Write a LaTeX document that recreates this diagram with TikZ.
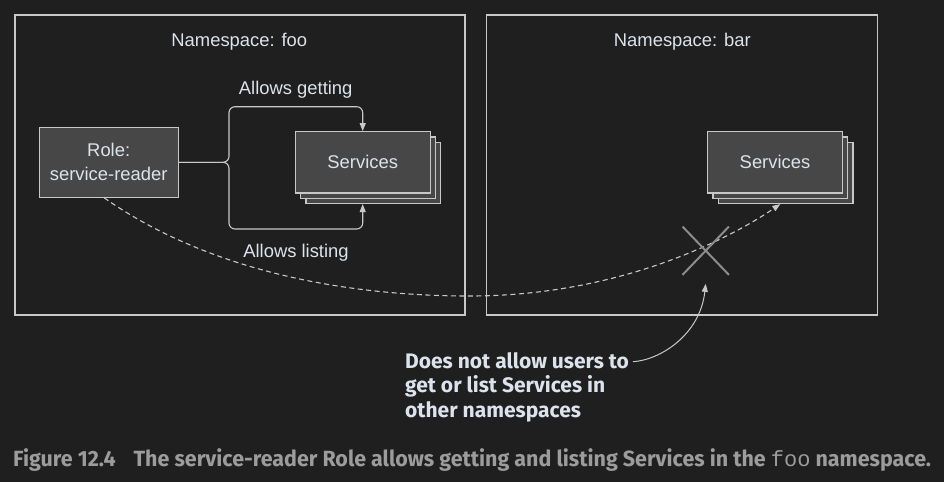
\documentclass[tikz,border=0pt]{standalone}
\usepackage{fontspec}
\usepackage{xcolor}
\usepackage{tikz}
\usetikzlibrary{arrows.meta, shadows, shapes.misc}
\setmainfont{Liberation Sans}
\setmonofont{Liberation Mono}
\newfontfamily\notefont{Fira Sans}
\newfontfamily\capfont[FakeStretch=0.975]{Fira Sans}
\definecolor{bg}{HTML}{1F1F1F}
\definecolor{edge}{HTML}{C8C8C8}
\definecolor{boxfill}{HTML}{474747}
\definecolor{txt}{HTML}{DCE3EC}
\definecolor{capgray}{HTML}{9C9C9C}
\definecolor{crossgray}{HTML}{8C8C8C}

\begin{document}
\begin{tikzpicture}[x=1pt, y=-1pt,
    ns/.style={draw=edge, line width=1.1pt, minimum width=450pt, minimum height=300pt, inner sep=0pt},
    box/.style={draw=edge, fill=boxfill, line width=1.1pt, text=txt, align=center, inner sep=0pt,
        font=\fontsize{18.4}{24}\selectfont},
    stack/.style={box, minimum width=134.7pt, minimum height=61.3pt,
        general shadow={shadow xshift=10.6pt, shadow yshift=-10.6pt, draw=edge, fill=boxfill, line width=1.1pt},
        general shadow={shadow xshift=5.3pt, shadow yshift=-5.3pt, draw=edge, fill=boxfill, line width=1.1pt}},
    lbl/.style={text=txt, inner sep=0pt, anchor=base, font=\fontsize{18.4}{24}\selectfont},
    flow/.style={draw=edge, line width=1.1pt, rounded corners=6pt, -{Triangle[length=8pt, width=6pt]}},
    miss/.style={draw=edge, line width=1.1pt, dash pattern=on 5pt off 3.5pt, -{Triangle[length=8pt, width=6pt]}},
    point/.style={draw=edge, line width=1pt, -{Triangle[length=8pt, width=6pt]}}]
    \fill[bg] (0,0) rectangle (944,482);
    \useasboundingbox (0,0) rectangle (944,482);

    % namespaces
    \node[ns] (foo) at (240,165) {};
    \node[ns, minimum width=391pt] (bar) at (681.8,165) {};
    \node[lbl] (foolbl) at (239.3,46.7) {Namespace: foo};
    \node[lbl] (barlbl) at (682.3,46.7) {Namespace: bar};

    % role and services
    \node[box, minimum width=138.7pt, minimum height=70pt] (role) at (108.7,162.3) {Role:\\service-reader};
    \node[stack] (svcfoo) at (362.7,162.3) {Services};
    \node[stack] (svcbar) at (775,162.3) {Services};

    % allowed
    \draw[flow] (role.east) -- (229,162.3) |- (362.7,106.7) -- (svcfoo.north);
    \draw[flow] (role.east) -- (229,162.3) |- (362.7,229) -- ([yshift=-10.6pt]svcfoo.south);
    \node[lbl] (get) at (295.7,94) {Allows getting};
    \node[lbl] (list) at (296,257.3) {Allows listing};

    % not allowed
    \draw[miss] ([xshift=-4.5pt]role.south) .. controls (200,265) and (330,296) .. (470,296)
        .. controls (610,296) and (720,245) .. ([xshift=5.3pt, yshift=-10.6pt]svcbar.south);
    \node[cross out, draw=crossgray, line width=2pt, minimum width=44.4pt, minimum height=46.3pt, inner sep=0pt] (nope) at (705.7,250.7) {};

    % note
    \node[anchor=base west, text=txt, align=left, inner sep=0pt,
        font=\notefont\bfseries\fontsize{21}{24.5}\selectfont] (note) at (405,417.3)
        {Does not allow users to\\get or list Services in\\other namespaces};
    \coordinate (notestart) at (633,361.7);
    \draw[point] (notestart) .. controls (660,360) and (700,335) .. ([yshift=-9pt]nope.south);

    % caption
    \node[anchor=base west, text=capgray, inner sep=0pt, font=\capfont\bfseries\fontsize{22}{24}\selectfont] (cap) at (13,466)
        {Figure 12.4\hspace{18pt}The service-reader Role allows getting and listing Services in the {\ttfamily\mdseries foo} namespace.};
\end{tikzpicture}
\end{document}
